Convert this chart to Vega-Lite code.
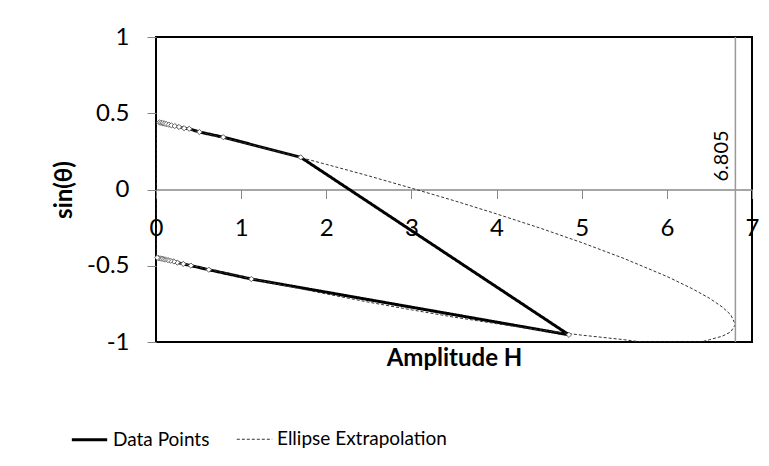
{
  "$schema": "https://vega.github.io/schema/vega-lite/v6.json",
  "width": 596,
  "height": 305,
  "autosize": "none",
  "padding": {"left": 156, "top": 37, "right": 17, "bottom": 124},
  "background": "white",
  "config": {
    "view": {"stroke": "black", "strokeWidth": 2},
    "font": "Lato, DejaVu Sans",
    "axis": {"labelFont": "Lato, DejaVu Sans", "titleFont": "Lato, DejaVu Sans", "labelColor": "black", "titleColor": "black"},
    "legend": {"labelFont": "Lato, DejaVu Sans"}
  },
  "datasets": {
    "curves": [
      {"series": "Data Points", "i": 1, "H": 0.04, "s": 0.44},
      {"series": "Data Points", "i": 2, "H": 0.06, "s": 0.437},
      {"series": "Data Points", "i": 3, "H": 0.08, "s": 0.435},
      {"series": "Data Points", "i": 4, "H": 0.1, "s": 0.432},
      {"series": "Data Points", "i": 5, "H": 0.12, "s": 0.429},
      {"series": "Data Points", "i": 6, "H": 0.15, "s": 0.425},
      {"series": "Data Points", "i": 7, "H": 0.18, "s": 0.421},
      {"series": "Data Points", "i": 8, "H": 0.22, "s": 0.416},
      {"series": "Data Points", "i": 9, "H": 0.27, "s": 0.41},
      {"series": "Data Points", "i": 10, "H": 0.33, "s": 0.402},
      {"series": "Data Points", "i": 11, "H": 0.39, "s": 0.398},
      {"series": "Data Points", "i": 12, "H": 0.51, "s": 0.377},
      {"series": "Data Points", "i": 13, "H": 0.79, "s": 0.343},
      {"series": "Data Points", "i": 14, "H": 1.7, "s": 0.211},
      {"series": "Data Points", "i": 15, "H": 4.85, "s": -0.953},
      {"series": "Data Points", "i": 16, "H": 1.12, "s": -0.587},
      {"series": "Data Points", "i": 17, "H": 0.62, "s": -0.526},
      {"series": "Data Points", "i": 18, "H": 0.41, "s": -0.499},
      {"series": "Data Points", "i": 19, "H": 0.32, "s": -0.488},
      {"series": "Data Points", "i": 20, "H": 0.25, "s": -0.479},
      {"series": "Data Points", "i": 21, "H": 0.21, "s": -0.472},
      {"series": "Data Points", "i": 22, "H": 0.17, "s": -0.467},
      {"series": "Data Points", "i": 23, "H": 0.14, "s": -0.463},
      {"series": "Data Points", "i": 24, "H": 0.11, "s": -0.459},
      {"series": "Data Points", "i": 25, "H": 0.09, "s": -0.457},
      {"series": "Data Points", "i": 26, "H": 0.07, "s": -0.454},
      {"series": "Data Points", "i": 27, "H": 0.05, "s": -0.452},
      {"series": "Data Points", "i": 28, "H": 0.03, "s": -0.449},
      {"series": "Data Points", "i": 29, "H": 0.015, "s": -0.447},
      {"series": "Ellipse Extrapolation", "i": 1, "H": 0, "s": 0.445},
      {"series": "Ellipse Extrapolation", "i": 2, "H": 0.5, "s": 0.379},
      {"series": "Ellipse Extrapolation", "i": 3, "H": 1, "s": 0.31},
      {"series": "Ellipse Extrapolation", "i": 4, "H": 1.5, "s": 0.239},
      {"series": "Ellipse Extrapolation", "i": 5, "H": 2, "s": 0.165},
      {"series": "Ellipse Extrapolation", "i": 6, "H": 2.5, "s": 0.089},
      {"series": "Ellipse Extrapolation", "i": 7, "H": 3, "s": 0.009},
      {"series": "Ellipse Extrapolation", "i": 8, "H": 3.5, "s": -0.073},
      {"series": "Ellipse Extrapolation", "i": 9, "H": 4, "s": -0.16},
      {"series": "Ellipse Extrapolation", "i": 10, "H": 4.5, "s": -0.251},
      {"series": "Ellipse Extrapolation", "i": 11, "H": 5, "s": -0.348},
      {"series": "Ellipse Extrapolation", "i": 12, "H": 5.5, "s": -0.453},
      {"series": "Ellipse Extrapolation", "i": 13, "H": 6, "s": -0.57},
      {"series": "Ellipse Extrapolation", "i": 14, "H": 6.3, "s": -0.651},
      {"series": "Ellipse Extrapolation", "i": 15, "H": 6.5, "s": -0.713},
      {"series": "Ellipse Extrapolation", "i": 16, "H": 6.65, "s": -0.77},
      {"series": "Ellipse Extrapolation", "i": 17, "H": 6.75, "s": -0.821},
      {"series": "Ellipse Extrapolation", "i": 18, "H": 6.805, "s": -0.885},
      {"series": "Ellipse Extrapolation", "i": 19, "H": 6.75, "s": -0.934},
      {"series": "Ellipse Extrapolation", "i": 20, "H": 6.65, "s": -0.962},
      {"series": "Ellipse Extrapolation", "i": 21, "H": 6.5, "s": -0.985},
      {"series": "Ellipse Extrapolation", "i": 22, "H": 6.4, "s": -1.0},
      {"series": "Ellipse Extrapolation", "i": 23, "H": 5.7, "s": -1.0},
      {"series": "Ellipse Extrapolation", "i": 24, "H": 5.5, "s": -0.985},
      {"series": "Ellipse Extrapolation", "i": 25, "H": 5, "s": -0.955},
      {"series": "Ellipse Extrapolation", "i": 26, "H": 4.5, "s": -0.921},
      {"series": "Ellipse Extrapolation", "i": 27, "H": 4, "s": -0.88},
      {"series": "Ellipse Extrapolation", "i": 28, "H": 3.5, "s": -0.837},
      {"series": "Ellipse Extrapolation", "i": 29, "H": 3, "s": -0.789},
      {"series": "Ellipse Extrapolation", "i": 30, "H": 2.5, "s": -0.739},
      {"series": "Ellipse Extrapolation", "i": 31, "H": 2, "s": -0.685},
      {"series": "Ellipse Extrapolation", "i": 32, "H": 1.5, "s": -0.629},
      {"series": "Ellipse Extrapolation", "i": 33, "H": 1, "s": -0.57},
      {"series": "Ellipse Extrapolation", "i": 34, "H": 0.5, "s": -0.509},
      {"series": "Ellipse Extrapolation", "i": 35, "H": 0, "s": -0.445},
      {"series": "Ellipse Extrapolation", "i": 36, "H": 0, "s": 0.445}
    ],
    "marker": [{"H": 6.805, "s": 0.22, "label": "6.805"}]
  },
  "layer": [
    {
      "data": {"name": "curves"},
      "mark": {"type": "line", "clip": true},
      "encoding": {
        "x": {
          "field": "H", "type": "quantitative",
          "scale": {"domain": [0, 7]},
          "axis": {"orient": "bottom", "title": "Amplitude H", "labels": false, "ticks": false, "domain": false, "grid": false, "titleFontSize": 24, "titleFontWeight": "bold", "titlePadding": 4}
        },
        "y": {
          "field": "s", "type": "quantitative",
          "scale": {"domain": [-1, 1]},
          "axis": {"values": [-1, -0.5, 0, 0.5, 1], "labelExpr": "toString(datum.value)", "title": "sin(θ)", "grid": false, "domain": false, "tickColor": "#888888", "tickSize": 9, "labelFontSize": 24, "labelPadding": 18, "labelFlush": false, "titleFontSize": 24, "titleFontWeight": "bold", "titlePadding": 10}
        },
        "color": {
          "field": "series", "type": "nominal",
          "scale": {"domain": ["Data Points", "Ellipse Extrapolation"], "range": ["#000000", "#333333"]},
          "legend": {"title": null, "orient": "none", "legendX": -86, "legendY": 383, "direction": "horizontal", "symbolType": "stroke", "symbolSize": 1250, "labelFontSize": 19, "labelColor": "black", "labelLimit": 400, "columnPadding": 24, "labelOffset": 4}
        },
        "strokeDash": {
          "field": "series", "type": "nominal",
          "scale": {"domain": ["Data Points", "Ellipse Extrapolation"], "range": [[1, 0], [3, 2]]}
        },
        "strokeWidth": {
          "field": "series", "type": "nominal",
          "scale": {"domain": ["Data Points", "Ellipse Extrapolation"], "range": [3, 1]}
        },
        "order": {"field": "i", "type": "quantitative"}
      }
    },
    {
      "data": {"name": "curves"},
      "transform": [{"filter": "datum.series === 'Data Points'"}],
      "mark": {"type": "point", "shape": "diamond", "filled": true, "fill": "white", "stroke": "#666666", "strokeWidth": 1, "size": 28, "opacity": 1},
      "encoding": {
        "x": {
          "field": "H", "type": "quantitative",
          "axis": {"orient": "bottom", "offset": -152.5, "title": null, "values": [0, 1, 2, 3, 4, 5, 6, 7], "grid": false, "domainColor": "#888888", "domainWidth": 1.5, "tickColor": "#888888", "tickSize": 9, "labelFontSize": 24, "labelPadding": 18, "labelFlush": false, "labelOverlap": false}
        },
        "y": {"field": "s", "type": "quantitative"}
      }
    },
    {
      "data": {"name": "marker"},
      "mark": {"type": "rule", "color": "#999999", "strokeWidth": 1.5},
      "encoding": {
        "x": {"field": "H", "type": "quantitative", "axis": null}
      }
    },
    {
      "data": {"name": "marker"},
      "mark": {"type": "text", "angle": 270, "align": "center", "baseline": "bottom", "fontSize": 20, "color": "black", "dy": -3},
      "encoding": {
        "x": {"field": "H", "type": "quantitative", "axis": null},
        "y": {"field": "s", "type": "quantitative"},
        "text": {"field": "label"}
      }
    }
  ],
  "resolve": {"axis": {"x": "independent"}}
}
